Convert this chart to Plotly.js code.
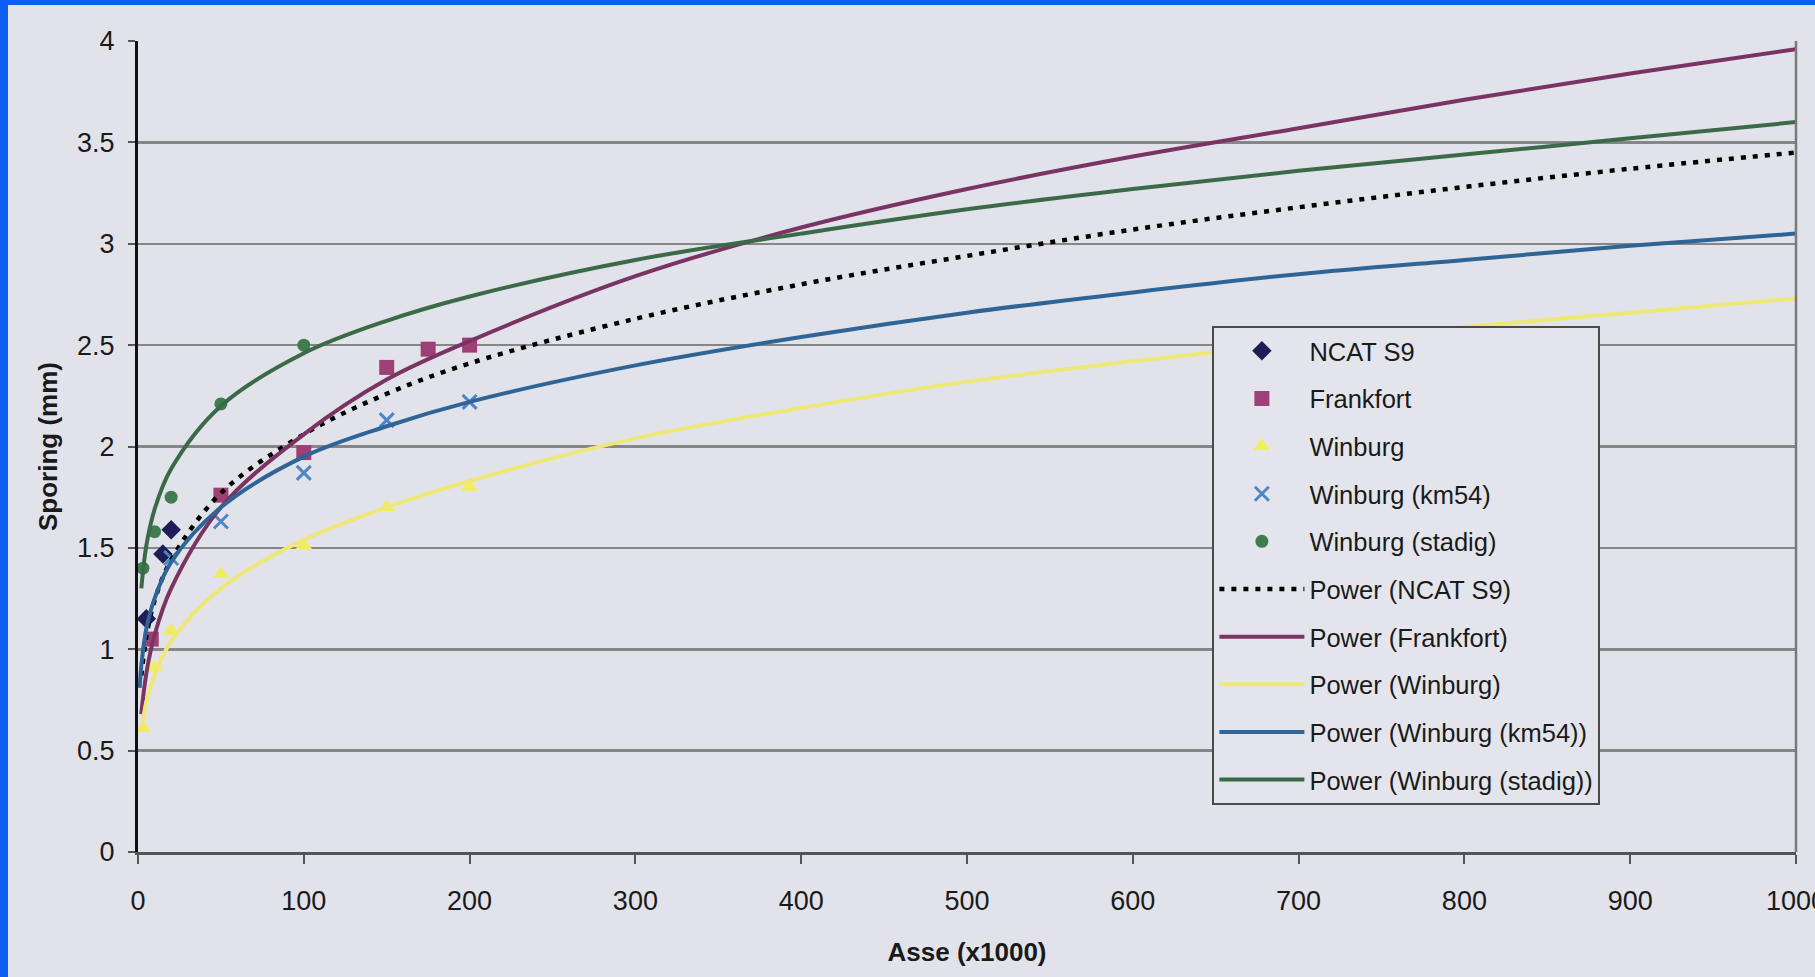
<!DOCTYPE html>
<html>
<head>
<meta charset="utf-8">
<script src="https://cdn.plot.ly/plotly-3.0.1.min.js"></script>
<style>
  html, body { margin: 0; padding: 0; background: #e2e3ea; }
  #wrap { position: relative; width: 1815px; height: 977px; overflow: hidden; }
  #chart { position: absolute; left: 0; top: 0; width: 1815px; height: 977px; }
  .blueL { position: absolute; left: 0; top: 0; width: 8px; height: 977px; background: #0e60f2; }
  .blueT { position: absolute; left: 0; top: 0; width: 1815px; height: 5px; background: #0e60f2; }
</style>
</head>
<body>
<div id="wrap">
  <div id="chart"></div>
  <div class="blueL"></div>
  <div class="blueT"></div>
</div>
<script>
// ---- measured data (x in thousands of axles, y = rut depth in mm) ----
const ncatX = [5, 15, 20];
const ncatY = [1.15, 1.47, 1.59];

const frankX = [8, 50, 100, 150, 175, 200];
const frankY = [1.05, 1.76, 1.97, 2.39, 2.48, 2.50];

const winX = [3, 10, 20, 50, 100, 150, 200];
const winY = [0.61, 0.91, 1.09, 1.37, 1.51, 1.70, 1.80];

const kmX = [20, 50, 100, 150, 200];
const kmY = [1.45, 1.63, 1.87, 2.13, 2.22];

const stadX = [3, 10, 20, 50, 100];
const stadY = [1.40, 1.58, 1.75, 2.21, 2.50];

// trend curves at these x positions
const fitX = [2, 5, 10, 20, 50, 100, 150, 200, 300, 400, 500, 600, 700, 800, 900, 1000];
const fitNcat  = [0.87, 1.06, 1.24, 1.44, 1.77, 2.06, 2.26, 2.41, 2.63, 2.80, 2.94, 3.07, 3.18, 3.28, 3.37, 3.45];
const fitFrank = [0.68, 0.88, 1.07, 1.30, 1.70, 2.06, 2.33, 2.52, 2.84, 3.08, 3.27, 3.43, 3.57, 3.71, 3.84, 3.96];
const fitWin   = [0.59, 0.74, 0.87, 1.04, 1.30, 1.54, 1.70, 1.83, 2.04, 2.19, 2.32, 2.42, 2.51, 2.59, 2.66, 2.73];
const fitKmX   = [1, 2, 5, 10, 20, 50, 100, 150, 200, 300, 400, 500, 600, 700, 800, 900, 1000];
const fitKm    = [0.81, 0.92, 1.10, 1.25, 1.43, 1.70, 1.95, 2.10, 2.22, 2.40, 2.54, 2.66, 2.76, 2.85, 2.92, 2.99, 3.05];
const fitStad  = [1.30, 1.51, 1.69, 1.89, 2.20, 2.46, 2.62, 2.74, 2.92, 3.05, 3.17, 3.27, 3.36, 3.44, 3.52, 3.60];

const xTicks = [0, 100, 200, 300, 400, 500, 600, 700, 800, 900, 1000];
const yTicks = [0, 0.5, 1, 1.5, 2, 2.5, 3, 3.5, 4];
const yTickText = ['0', '0.5', '1', '1.5', '2', '2.5', '3', '3.5', '4'];

const FONT = '"Liberation Sans", Arial, sans-serif';

function pts(name, x, y, symbol, color, size, grp) {
  return { type: 'scatter', mode: 'markers', name: name, x: x, y: y, legendgroup: grp,
    marker: { symbol: symbol, color: color, size: size, line: { width: 0 } } };
}
function fit(name, x, y, color, width, dash, grp) {
  return { type: 'scatter', mode: 'lines', name: name, x: x, y: y, legendgroup: grp,
    line: { color: color, width: width, dash: dash, shape: 'spline', smoothing: 1 } };
}

const traces = [
  pts('NCAT S9', ncatX, ncatY, 'diamond', '#1d1d58', 15, 'g1'),
  pts('Frankfort', frankX, frankY, 'square', '#a03f75', 15, 'g2'),
  pts('Winburg', winX, winY, 'triangle-up', '#f1ee5c', 15, 'g3'),
  pts('Winburg (km54)', kmX, kmY, 'x-thin-open', '#4f86c6', 14, 'g4'),
  pts('Winburg (stadig)', stadX, stadY, 'circle', '#3f7d4f', 13, 'g5'),
  fit('Power (NCAT S9)', fitX, fitNcat, '#000000', 4.5, '5px,7px', 'g6'),
  fit('Power (Frankfort)', fitX, fitFrank, '#7a3463', 4, 'solid', 'g7'),
  fit('Power (Winburg)', fitX, fitWin, '#eee878', 4, 'solid', 'g8'),
  fit('Power (Winburg (km54))', fitKmX, fitKm, '#2f6497', 4, 'solid', 'g9'),
  fit('Power (Winburg (stadig))', fitX, fitStad, '#3b6a49', 4, 'solid', 'g10')
];
traces[3].marker.line = { width: 3, color: '#4f86c6' };

const layout = {
  width: 1815, height: 977,
  margin: { l: 138, r: 19, t: 41, b: 125 },
  paper_bgcolor: '#e2e3ea',
  plot_bgcolor: '#e2e3ea',
  font: { family: FONT, color: '#1a1a1a', size: 26 },
  showlegend: true,
  legend: {
    x: 0.648, y: 0.649, xanchor: 'left', yanchor: 'top',
    bgcolor: '#e4e5ec', bordercolor: '#4a4a4a', borderwidth: 2,
    font: { family: FONT, size: 25.5, color: '#1a1a1a' },
    itemwidth: 85, tracegroupgap: 11.5, traceorder: 'grouped'
  },
  xaxis: {
    range: [0, 1000], tickvals: xTicks, ticktext: xTicks.map(String),
    showgrid: false, zeroline: false,
    showline: true, linecolor: '#555555', linewidth: 3,
    ticks: 'outside', ticklen: 9, tickwidth: 2, tickcolor: '#555555',
    ticklabelstandoff: 14, ticklabeloverflow: 'allow',
    tickfont: { family: FONT, size: 27, color: '#1a1a1a' },
    title: { text: '<b>Asse (x1000)</b>', font: { family: FONT, size: 26, color: '#1a1a1a' }, standoff: 28 }
  },
  yaxis: {
    range: [0, 4], tickvals: yTicks, ticktext: yTickText,
    showgrid: true, gridcolor: '#868686', gridwidth: 2.5,
    zeroline: false,
    showline: true, linecolor: '#111111', linewidth: 3,
    ticks: 'outside', ticklen: 7, tickwidth: 2, tickcolor: '#555555',
    ticklabelstandoff: 8,
    tickfont: { family: FONT, size: 27, color: '#1a1a1a' },
    title: { text: '<b>Sporing (mm)</b>', font: { family: FONT, size: 26, color: '#1a1a1a' }, standoff: 12 }
  },
  shapes: [
    { type: 'line', xref: 'x domain', yref: 'y domain', x0: 1, x1: 1, y0: 0, y1: 1,
      line: { color: '#7a7a7a', width: 2.5 } }
  ]
};

Plotly.newPlot('chart', traces, layout, { displayModeBar: false, staticPlot: true });
</script>
</body>
</html>
